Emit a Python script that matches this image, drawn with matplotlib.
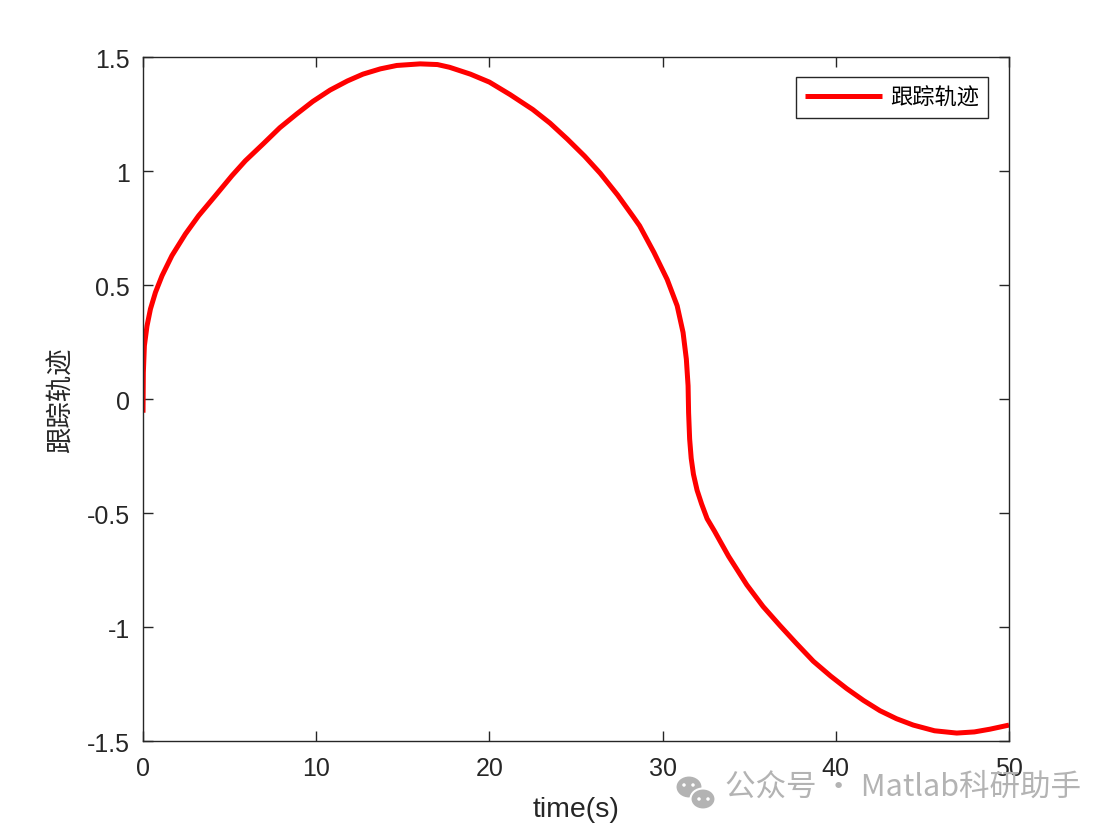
import matplotlib.pyplot as plt
from matplotlib.patches import Ellipse

plt.rcParams['axes.unicode_minus'] = False

# tracking trajectory
t = [0.0, 0.02, 0.08, 0.23, 0.43, 0.72, 1.10, 1.67, 2.45, 3.21, 4.18, 5.14,
     5.91, 6.95, 7.9, 8.87, 9.8, 10.8, 11.8, 12.7, 13.7, 14.65, 16.0, 17.0,
     17.7, 18.9, 20.0, 21.2, 22.5, 23.5, 24.5, 25.5, 26.4, 27.4, 28.3, 28.67,
     29.5, 30.26, 30.84, 31.18, 31.37, 31.47, 31.5, 31.56, 31.65, 31.78, 31.99,
     32.25, 32.57, 33.0, 33.33, 33.81, 34.86, 35.8, 36.78, 37.7, 38.7, 39.7,
     40.63, 41.6, 42.55, 43.5, 44.47, 45.7, 46.98, 48.0, 48.9, 50.0]
y = [-0.06, 0.117, 0.234, 0.32, 0.395, 0.468, 0.541, 0.629, 0.724, 0.804, 0.892, 0.98,
     1.045, 1.12, 1.19, 1.25, 1.305, 1.355, 1.395, 1.425, 1.448, 1.463, 1.47, 1.467,
     1.455, 1.425, 1.39, 1.335, 1.27, 1.21, 1.14, 1.065, 0.99, 0.895, 0.80, 0.76,
     0.643, 0.525, 0.409, 0.292, 0.175, 0.058, -0.06, -0.175, -0.26, -0.33, -0.40,
     -0.46, -0.525, -0.58, -0.625, -0.69, -0.815, -0.91, -0.994, -1.07, -1.15, -1.215,
     -1.27, -1.322, -1.367, -1.402, -1.43, -1.455, -1.465, -1.46, -1.448, -1.43]

xticks = [0, 10, 20, 30, 40, 50]
yticks = [-1.5, -1, -0.5, 0, 0.5, 1, 1.5]
yticklabels = ['-1.5', '-1', '-0.5', '0', '0.5', '1', '1.5']

cjk = ['Noto Sans CJK SC', 'DejaVu Sans']
axcol = '#262626'

fig = plt.figure(figsize=(11.12, 8.29), dpi=100)
ax = fig.add_axes([0.1286, 0.1049, 0.7788, 0.8251])

ax.plot(t, y, color='red', linewidth=3.6, label='跟踪轨迹',
        solid_joinstyle='round', solid_capstyle='butt')

ax.set_xlim(0, 50)
ax.set_ylim(-1.5, 1.5)
ax.set_xticks(xticks)
ax.set_xticklabels([str(v) for v in xticks], fontfamily='Liberation Sans')
ax.set_yticks(yticks)
ax.set_yticklabels(yticklabels, fontfamily='Liberation Sans')
ax.tick_params(direction='in', length=7, width=1, colors=axcol, labelsize=18,
               top=True, right=True)
ax.tick_params(axis='x', pad=11)
ax.tick_params(axis='y', pad=9.5)
for s in ax.spines.values():
    s.set_color(axcol)
    s.set_linewidth(1)

ax.set_xlabel('time(s)', fontsize=20.5, color=axcol, fontfamily='Liberation Sans')
ax.xaxis.set_label_coords(0.5, -0.081)
ax.set_ylabel('跟踪轨迹', fontsize=19, color=axcol, fontfamily=cjk)
ax.yaxis.set_label_coords(-0.079, 0.5)

leg = ax.legend(loc='upper right', prop={'family': cjk, 'size': 16},
                frameon=True, fancybox=False, edgecolor=axcol, framealpha=1,
                handlelength=3.5, handletextpad=0.35, borderpad=0.4,
                borderaxespad=0, bbox_to_anchor=(0.9757, 0.9708))
leg.get_frame().set_linewidth(1)

# watermark (wechat icon + text)
W, H = 1112, 829
for cx, cy, w, h in [(689, 788, 27, 23), (703, 800, 25, 21)]:
    fig.patches.append(Ellipse((cx / W, 1 - cy / H), w / W, h / H,
                               transform=fig.transFigure, facecolor='#b3b3b3',
                               edgecolor='white', linewidth=1.5))
for ex, ey in [(684, 786), (693, 786), (699, 800), (708, 800)]:
    fig.patches.append(Ellipse((ex / W, 1 - ey / H), 3.5 / W, 3.5 / H,
                               transform=fig.transFigure, facecolor='white',
                               edgecolor='none'))
fig.text(725 / W, 1 - 787 / H, '公众号 · Matlab科研助手', fontsize=22, color='#b3b3b3',
         fontfamily=cjk, ha='left', va='center')

fig.savefig('out.png', dpi=100)
